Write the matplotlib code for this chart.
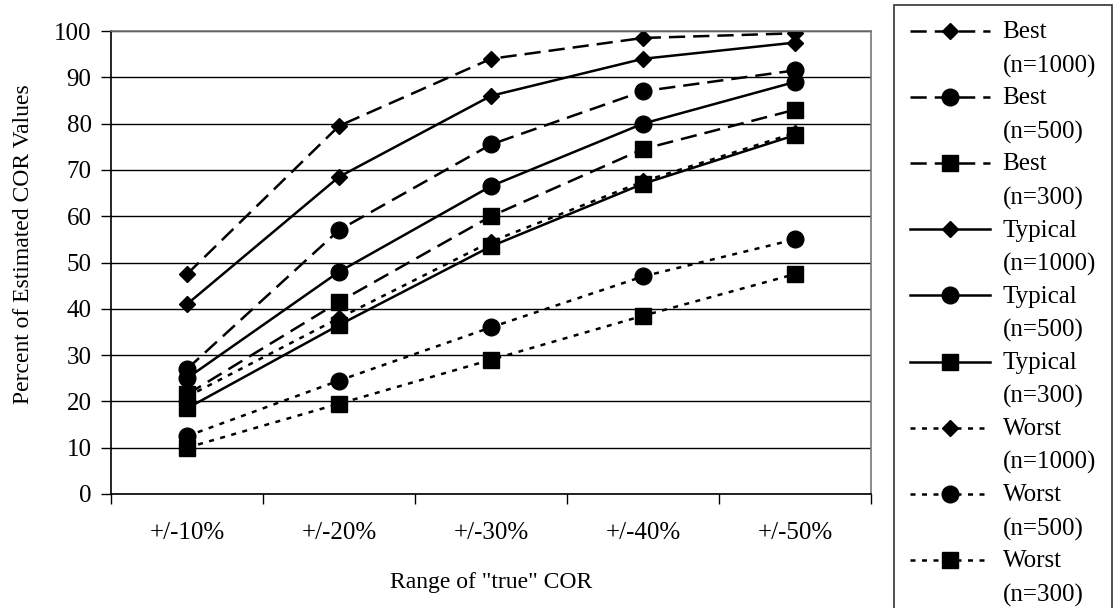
import numpy as np
import matplotlib
matplotlib.use('Agg')
import matplotlib.pyplot as plt
from matplotlib.legend_handler import HandlerLine2D

plt.rcParams['font.family'] = 'Liberation Serif'

categories = ['+/-10%', '+/-20%', '+/-30%', '+/-40%', '+/-50%']

best_1000 = [47.5, 79.5, 94.0, 98.5, 99.5]
best_500 = [27.0, 57.0, 75.5, 87.0, 91.5]
best_300 = [21.5, 41.5, 60.0, 74.5, 83.0]
typical_1000 = [41.0, 68.5, 86.0, 94.0, 97.5]
typical_500 = [25.0, 48.0, 66.5, 80.0, 89.0]
typical_300 = [18.5, 36.5, 53.5, 67.0, 77.5]
worst_1000 = [21.0, 38.0, 54.5, 67.5, 78.0]
worst_500 = [12.5, 24.5, 36.0, 47.0, 55.0]
worst_300 = [10.0, 19.5, 29.0, 38.5, 47.5]

series = [
    ('Best\n(n=1000)', best_1000, 'dash', 'D'),
    ('Best\n(n=500)', best_500, 'dash', 'o'),
    ('Best\n(n=300)', best_300, 'dash', 's'),
    ('Typical\n(n=1000)', typical_1000, 'solid', 'D'),
    ('Typical\n(n=500)', typical_500, 'solid', 'o'),
    ('Typical\n(n=300)', typical_300, 'solid', 's'),
    ('Worst\n(n=1000)', worst_1000, 'dot', 'D'),
    ('Worst\n(n=500)', worst_500, 'dot', 'o'),
    ('Worst\n(n=300)', worst_300, 'dot', 's'),
]

styles = {'dash': (0, (6.5, 3.2)), 'solid': '-', 'dot': (0, (2.0, 2.6))}
msizes = {'D': 8.5, 'o': 12, 's': 11}
FS = 18

fig = plt.figure(figsize=(11.16, 6.08), dpi=100)
ax = fig.add_axes([0.0995, 0.1875, 0.681, 0.7615])

x = np.arange(len(categories))
for label, vals, ls, mk in series:
    ax.plot(x, vals, color='black', lw=1.8, linestyle=styles[ls],
            marker=mk, markersize=msizes[mk], label=label)

ax.set_xlim(-0.5, len(categories) - 0.5)
ax.set_ylim(0, 100)
ax.set_yticks(np.arange(0, 101, 10))
ax.yaxis.grid(True, color='black', lw=1.0)
ax.set_axisbelow(True)

ax.set_xticks(x)
ax.set_xticklabels(categories, fontsize=FS)
ax.set_xticks(np.arange(-0.5, len(categories), 1), minor=True)
ax.tick_params(axis='x', which='major', length=0, pad=20)
ax.tick_params(axis='x', which='minor', length=7, width=1, direction='out')
ax.tick_params(axis='y', length=7, width=1, direction='out', labelsize=FS, pad=7)

for s in ['left', 'bottom']:
    ax.spines[s].set_color('black')
    ax.spines[s].set_linewidth(1.2)
for s in ['top', 'right']:
    ax.spines[s].set_color('#777777')
    ax.spines[s].set_linewidth(1.2)

ax.set_ylabel('Percent of Estimated COR Values', fontsize=17)
ax.yaxis.set_label_coords(-0.102, 0.54)
ax.set_xlabel('Range of "true" COR', fontsize=17, labelpad=20)


# legend handles sit level with the first line of each two-line label
class TopHandler(HandlerLine2D):
    def create_artists(self, legend, orig_handle, xdescent, ydescent,
                       width, height, fontsize, trans):
        arts = super().create_artists(legend, orig_handle, xdescent, ydescent,
                                      width, height, fontsize, trans)
        for a in arts:
            a.set_ydata(np.asarray(a.get_ydata()) + fontsize * 0.73)
        return arts


leg = fig.legend(loc='upper left', bbox_to_anchor=(0.801, 0.992),
                 borderaxespad=0, fontsize=FS, handlelength=3.2,
                 handletextpad=0.5, labelspacing=0.39, borderpad=0.65,
                 fancybox=False,
                 handler_map={matplotlib.lines.Line2D: TopHandler()})
leg.get_frame().set_edgecolor('black')
leg.get_frame().set_linewidth(1.2)
for t in leg.get_texts():
    t.set_linespacing(1.64)

fig.savefig('out.png', dpi=100)
